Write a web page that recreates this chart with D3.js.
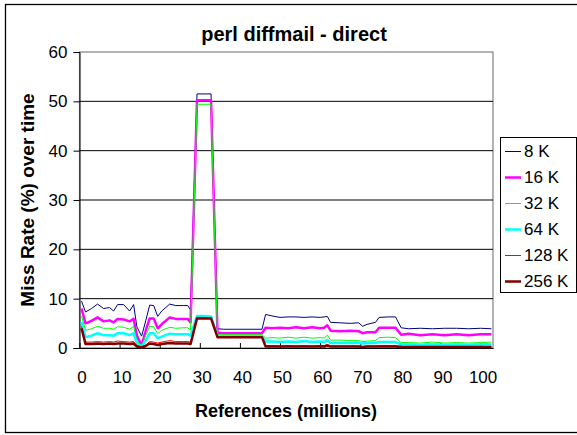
<!DOCTYPE html>
<html><head><meta charset="utf-8">
<script src="https://cdn.jsdelivr.net/npm/d3@7/dist/d3.min.js"></script>
<style>
html,body{margin:0;padding:0;background:#fff;}
svg{display:block;font-family:"Liberation Sans",Arial,sans-serif;}
</style></head><body>
<svg id="chart" width="577" height="435"></svg>
<script>
const title = "perl diffmail - direct";
const xTitle = "References (millions)";
const yTitle = "Miss Rate (%) over time";
const xTicks = [0,10,20,30,40,50,60,70,80,90,100];
const yTicks = [0,10,20,30,40,50,60];
const seriesNames = ["8 K","16 K","32 K","64 K","128 K","256 K"];
const seriesColors = ["#000080","#FF00FF","#00FF00","#00FFFF","#FF0000","#800000"];
const seriesWidths = [1,2.5,1,2.5,1,2.5];

const refs = [0.5,1.5,3,4.5,6,7.5,8.5,9.5,11,12.5,13.5,
  14.3,15.5,16.5,17.5,18.5,19.5,20.5,22.5,24,26,27,27.7,
  29.3,31,32.8,
  34.4,36,40,45.5,
  46.4,48,50,52,54,56,58,60,61,61.8,
  62.6,65,67.5,69.6,70.6,71.7,73.8,74.7,77,78.8,
  80.2,82,85,88,91,94,97,100,102.7];

const k8 = [9.5,7.3,8.0,8.9,8.0,8.2,7.5,8.8,8.8,7.5,8.8,
  4.3,2.4,5.5,8.7,8.6,6.4,7.5,8.9,8.6,8.6,8.6,7.7,
  51.5,51.5,51.5,
  3.9,3.8,3.8,3.8,
  6.8,6.5,6.2,6.3,6.3,6.2,6.3,6.2,6.3,6.4,
  5.2,5.1,5.0,5.1,4.4,4.8,5.2,6.2,6.3,6.3,
  4.1,3.9,4.0,3.9,4.0,4.0,3.9,4.0,3.9];
const k16 = [8.0,5.0,5.5,6.2,5.4,5.6,5.2,5.9,5.8,5.4,5.9,
  2.5,0.5,3.5,6.0,6.0,4.0,4.8,6.2,5.9,5.9,5.9,5.2,
  50.2,50.2,50.2,
  3.1,3.0,3.0,3.0,
  4.1,4.0,4.1,4.0,4.2,4.0,4.2,4.0,4.1,4.6,
  3.5,3.4,3.5,3.4,3.0,3.2,3.2,4.1,4.1,4.1,
  2.7,2.9,2.6,2.8,2.6,2.8,2.6,2.8,2.8];
const k32 = [6.5,3.6,3.9,4.4,4.0,4.0,3.8,4.3,4.2,3.8,4.4,
  1.5,0.4,2.5,4.4,4.3,2.9,3.6,4.2,4.0,4.1,4.1,3.6,
  49.4,49.4,49.4,
  2.7,2.7,2.7,2.7,
  2.0,2.1,2.0,2.2,2.0,2.2,2.0,2.1,2.0,2.6,
  1.6,1.6,1.5,1.5,1.3,1.4,1.5,2.1,2.2,2.1,
  1.1,1.1,1.0,1.2,1.0,1.1,1.0,1.1,1.2];
const k64 = [5.3,2.2,2.5,3.0,2.6,2.6,2.5,3.0,3.0,2.6,3.0,
  1.0,0.3,1.5,3.0,3.0,2.0,2.3,2.9,2.8,2.8,2.8,2.5,
  6.5,6.5,6.4,
  2.4,2.4,2.4,2.4,
  1.3,1.3,1.2,1.3,1.2,1.4,1.2,1.3,1.2,1.6,
  1.0,1.0,1.0,1.0,0.9,1.0,1.0,1.2,1.2,1.2,
  0.7,0.7,0.6,0.7,0.6,0.7,0.6,0.7,0.7];
const k128 = [4.4,1.2,1.2,1.3,1.2,1.3,1.2,1.4,1.3,1.2,1.3,
  0.5,0.2,0.6,1.3,1.2,1.0,1.2,1.5,1.3,1.3,1.3,1.2,
  6.2,6.2,6.1,
  2.3,2.3,2.3,2.3,
  0.5,0.5,0.4,0.5,0.4,0.5,0.4,0.5,0.5,0.7,
  0.4,0.4,0.4,0.4,0.3,0.4,0.4,0.5,0.5,0.5,
  0.3,0.3,0.3,0.3,0.3,0.3,0.3,0.3,0.3];
const k256 = [4.0,0.8,0.8,0.9,0.8,0.9,0.8,0.9,0.9,0.8,0.9,
  0.3,0.1,0.4,0.9,0.8,0.6,0.8,1.0,0.9,0.9,0.9,0.8,
  6.0,6.0,6.0,
  2.2,2.2,2.2,2.2,
  0.3,0.3,0.3,0.3,0.3,0.3,0.3,0.3,0.3,0.5,
  0.3,0.3,0.3,0.3,0.2,0.3,0.3,0.3,0.3,0.3,
  0.2,0.2,0.2,0.2,0.2,0.2,0.2,0.2,0.2];
const seriesValues = [k8,k16,k32,k64,k128,k256];

const svg = d3.select("#chart");
const plot = {left:79.5, right:493, top:52, bottom:348};
const x = d3.scaleLinear().domain([0,103.1]).range([plot.left, plot.right]);
const y = d3.scaleLinear().domain([0,60]).range([plot.bottom, plot.top]);

// outer frame
svg.append("rect").attr("x",5.5).attr("y",4.5).attr("width",600).attr("height",428)
  .attr("fill","#fff").attr("stroke","#000").attr("stroke-width",1.3);

// plot border (gray)
svg.append("rect").attr("x",plot.left).attr("y",plot.top)
  .attr("width",plot.right-plot.left).attr("height",plot.bottom-plot.top)
  .attr("fill","none").attr("stroke","#808080").attr("stroke-width",1.2);

// gridlines
svg.append("g").selectAll("line").data(yTicks.filter(d=>d>0 && d<60)).join("line")
  .attr("x1",plot.left).attr("x2",plot.right)
  .attr("y1",d=>y(d)).attr("y2",d=>y(d))
  .attr("stroke","#000").attr("stroke-width",1);

// y axis
const yAxis = d3.axisLeft(y).tickValues(yTicks).tickSize(6).tickPadding(6);
const gy = svg.append("g").attr("transform",`translate(${plot.left},0)`).call(yAxis);
gy.select(".domain").attr("stroke","#000");
gy.selectAll(".tick line").attr("stroke","#000");
gy.selectAll(".tick text").attr("font-size",17).attr("fill","#000")
  .attr("font-family","Liberation Sans, Arial, sans-serif");

// x axis
const xAxis = d3.axisBottom(x).tickValues(xTicks).tickSize(-5).tickPadding(23).tickSizeOuter(0);
const gx = svg.append("g").attr("transform",`translate(0,${plot.bottom})`).call(xAxis);
gx.select(".domain").attr("stroke","#000");
gx.selectAll(".tick line").attr("stroke","#000");
gx.selectAll(".tick text").attr("font-size",17).attr("fill","#000").attr("dx",2)
  .attr("font-family","Liberation Sans, Arial, sans-serif");

// series lines
const line = d3.line().x((d,i)=>x(refs[i])).y(d=>y(d));
const gl = svg.append("g");
seriesValues.forEach((vals,si)=>{
  gl.append("path").datum(vals).attr("d",line)
    .attr("fill","none").attr("stroke",seriesColors[si])
    .attr("stroke-width",seriesWidths[si]).attr("stroke-linejoin","round");
});

// titles
svg.append("text").attr("x",294).attr("y",41).attr("text-anchor","middle")
  .attr("font-size",20).attr("font-weight","bold").text(title);
svg.append("text").attr("x",286).attr("y",417).attr("text-anchor","middle")
  .attr("font-size",18).attr("font-weight","bold").text(xTitle);
svg.append("text").attr("transform","translate(34,200) rotate(-90)").attr("text-anchor","middle")
  .attr("font-size",19).attr("font-weight","bold").text(yTitle);

// legend
const leg = svg.append("g");
leg.append("rect").attr("x",500.5).attr("y",137.5).attr("width",76).attr("height",155)
  .attr("fill","#fff").attr("stroke","#000").attr("stroke-width",1);
seriesNames.forEach((n,i)=>{
  const cy = 151.5 + i*26;
  leg.append("line").attr("x1",505).attr("x2",521).attr("y1",cy).attr("y2",cy)
    .attr("stroke",seriesColors[i]).attr("stroke-width",seriesWidths[i]);
  leg.append("text").attr("x",524).attr("y",cy).attr("dy","0.35em")
    .attr("font-size",17).text(n);
});
</script>
</body></html>
